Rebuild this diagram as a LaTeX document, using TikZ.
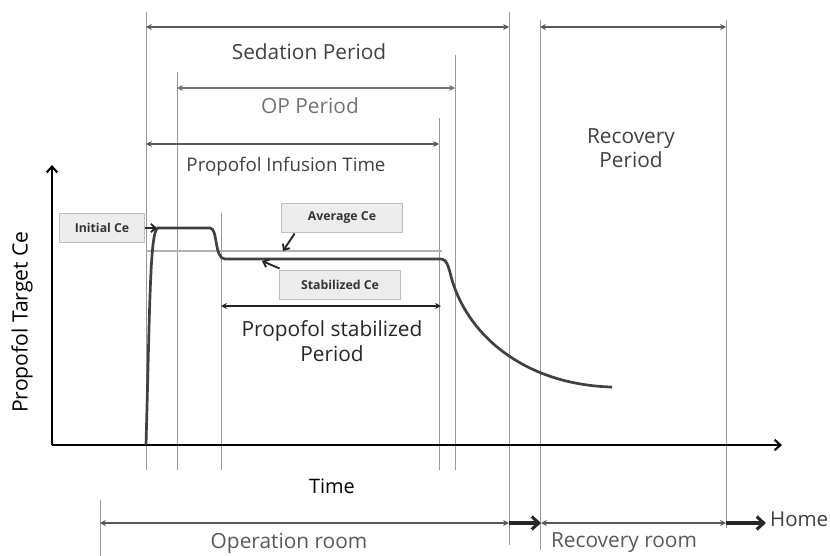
\documentclass[tikz,border=0pt]{standalone}
\usepackage{fontspec}
\setmainfont{Open Sans}
\usetikzlibrary{arrows.meta}

\tikzset{
  guide/.style={black!40, line width=0.7pt},
  span/.style={{Stealth[length=5pt,width=5pt]}-{Stealth[length=5pt,width=5pt]}, black!65, line width=1.9pt},
  move/.style={-{Straight Barb[length=6pt,width=11pt]}, black!85, line width=2.6pt},
  axis/.style={-{Straight Barb[length=5pt,width=9pt]}, black, line width=1.8pt},
  curve/.style={black!75, line width=2.3pt},
  pointer/.style={-{Straight Barb[length=4pt,width=7pt]}, black!85, line width=1.6pt},
  cebox/.style={draw=black!25, fill=black!7, line width=0.8pt, inner sep=0pt,
    minimum height=24pt, font=\bfseries\fontsize{10.5}{12}\selectfont, text=black!80},
  big/.style={font=\fontsize{17.8}{21}\selectfont, text=black!75},
  mid/.style={font=\fontsize{16}{19}\selectfont, text=black!75}
}

\begin{document}
\begin{tikzpicture}[x=0.03cm, y=-0.03cm]
  \useasboundingbox (0,0) rectangle (830,556);
  % guide lines
  \draw[guide] (146,12) -- (146,470);
  \draw[guide] (177,72) -- (177,470);
  \draw[guide] (221,213) -- (221,470);
  \draw[guide] (439,118) -- (439,470);
  \draw[guide] (455,55) -- (455,470);
  \draw[guide] (509,12) -- (509,545);
  \draw[guide] (540,20) -- (540,550);
  \draw[guide] (726,20) -- (726,528);
  \draw[guide] (100,500) -- (100,556);

  % axes
  \coordinate (origin) at (52,445);
  \coordinate (ytip) at (52,165);
  \coordinate (xtip) at (782,445);
  \draw[axis] (origin) -- (ytip);
  \draw[axis] (origin) -- (xtip);
  \node[rotate=90, font=\fontsize{18}{21}\selectfont] (ylab) at (22,322) {Propofol Target Ce};
  \node[font=\fontsize{17}{20}\selectfont] (xlab) at (332,486) {Time};

  % periods on top
  \coordinate (sedL) at (146,27);
  \coordinate (sedR) at (509,27);
  \draw[span] (sedL) -- (sedR);
  \node[big] (sedtext) at (309,52) {Sedation Period};
  \coordinate (opL) at (177,88);
  \coordinate (opR) at (455,88);
  \draw[span, black!55] (opL) -- (opR);
  \node[big, text=black!55] (optext) at (310,106) {OP Period};
  \coordinate (infL) at (146,144);
  \coordinate (infR) at (439,144);
  \draw[span] (infL) -- (infR);
  \node[mid] (inftext) at (286,167) {Propofol Infusion Time};
  \coordinate (recL) at (540,27);
  \coordinate (recR) at (726,27);
  \draw[span] (recL) -- (recR);
  \node[big, align=center] (rectext) at (631,148) {Recovery\\Period};

  % concentration
  \draw[black!30, line width=1.2pt] (146,251) -- (442,251);
  \draw[curve] (146,445) .. controls (150,300) and (150,230) .. (158,228)
    -- (210,228) .. controls (218,228) and (214,259) .. (225,259)
    -- (440,259) .. controls (447,259) and (448,265) .. (452,280)
    .. controls (470,340) and (530,385) .. (612,387);

  \node[cebox, minimum width=72pt] (initce) at (102,228) {Initial Ce};
  \node[cebox, minimum width=104pt] (avgce) at (342,218) {Average Ce};
  \node[cebox, minimum width=104pt] (stabce) at (340,285) {Stabilized Ce};
  \coordinate (peak) at (157,228);
  \coordinate (avgpt) at (283,251);
  \coordinate (stabpt) at (262,261);
  \draw[pointer] (initce.east) -- (peak);
  \draw[pointer] (avgce.south west) ++(14,1) -- (avgpt);
  \draw[pointer] (stabce.north west) ++(1,-2) -- (stabpt);

  \coordinate (stL) at (221,306);
  \coordinate (stR) at (441,306);
  \draw[span, black!85] (stL) -- (stR);
  \node[big, align=center, text=black!85] (sttext) at (332,341) {Propofol stabilized\\Period};

  % rooms
  \coordinate (orL) at (100,523);
  \coordinate (orR) at (509,523);
  \coordinate (rrL) at (541,523);
  \coordinate (rrR) at (726,523);
  \coordinate (homept) at (766,523);
  \draw[span] (orL) -- (orR);
  \draw[move] (orR) -- (rrL);
  \draw[span] (rrL) -- (rrR);
  \draw[move] (rrR) -- (homept);
  \node[font=\fontsize{17.5}{20}\selectfont, text=black!75, anchor=west] (hometext) at (766,519) {Home};
  \node[big, text=black!65] (ortext) at (289,543) {Operation room};
  \node[big, text=black!65] (rrtext) at (624,543) {Recovery room};
\end{tikzpicture}
\end{document}
